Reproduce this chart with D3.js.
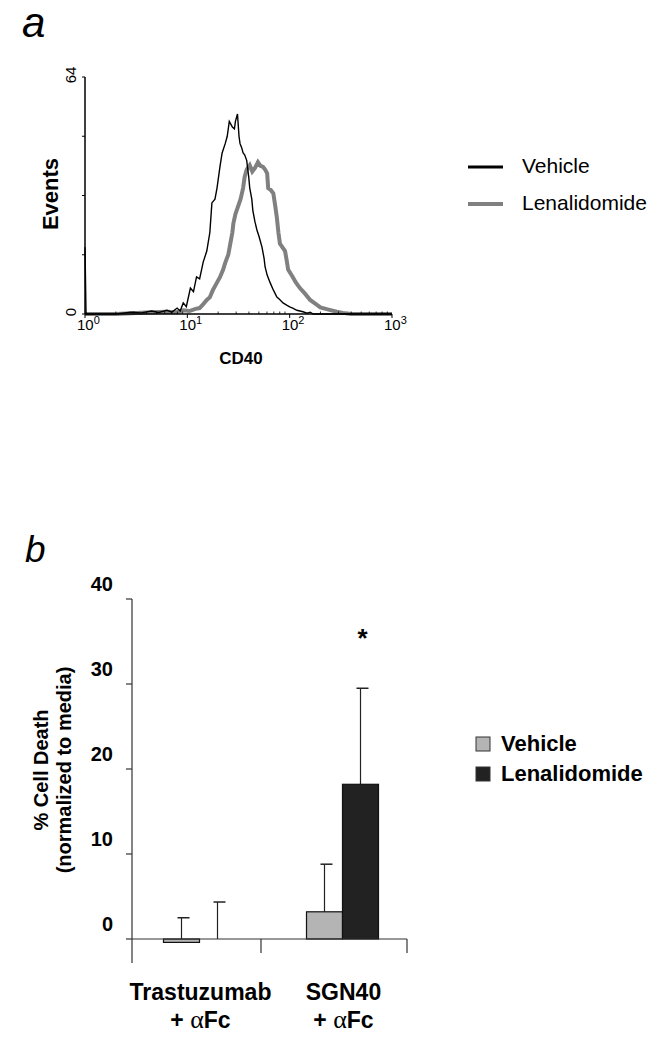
<!DOCTYPE html>
<html>
<head>
<meta charset="utf-8">
<script src="https://cdn.jsdelivr.net/npm/d3@7"></script>
<style>
  html, body { margin: 0; padding: 0; background: #fff; }
  svg { display: block; font-family: "Liberation Sans", Arial, sans-serif; }
</style>
</head>
<body>
<svg id="chart" width="660" height="1050"></svg>
<script>
// ---------- Panel a: CD40 flow histogram ----------
const histSeries = ["Vehicle", "Lenalidomide"];
const histColors = ["#000000", "#808080"];
// x = log10 fluorescence (CD40), y = events
const vehicleLog = [0.00,0.01,0.30,0.45,0.55,0.65,0.72,0.80,0.85,0.90,0.93,0.96,0.99,1.03,1.06,1.09,1.12,1.155,1.19,1.22,1.24,1.27,1.29,1.32,1.34,1.37,1.39,1.41,1.43,1.44,1.46,1.47,1.49,1.505,1.515,1.53,1.545,1.56,1.58,1.60,1.61,1.63,1.64,1.66,1.68,1.70,1.73,1.75,1.76,1.78,1.81,1.84,1.875,1.90,1.935,1.97,2.00,2.03,2.07,2.10,2.13,2.17,2.20,2.23,3.00];
const vehicleEvents = [18,0,0,0.5,0.3,0.8,0.4,1.0,0.5,1.6,0.8,3.0,2.0,7.0,6.0,10.0,9.5,14,17,22,30,31,34,40,43.5,46,48,52,51,50.5,50,52,54,48,46,45,43.5,43,41.5,37,34,31,28,25,22.7,21,18,15,12.7,10.5,8.4,6.5,4.6,4,3,2.4,1.9,1.6,1.0,0.8,0.6,0.2,0.5,0,0];
const lenaLog = [0.00,0.30,0.50,0.65,0.80,0.90,0.96,1.02,1.08,1.12,1.16,1.19,1.22,1.25,1.28,1.32,1.35,1.37,1.40,1.42,1.44,1.45,1.47,1.495,1.52,1.545,1.56,1.58,1.61,1.635,1.66,1.69,1.715,1.74,1.76,1.78,1.79,1.815,1.84,1.86,1.875,1.89,1.905,1.93,1.955,1.97,1.985,2.03,2.06,2.10,2.15,2.20,2.25,2.30,2.38,2.46,2.52,2.60,3.00];
const lenaEvents = [0,0,0.3,0.5,0.6,0.5,1.0,0.8,1.4,1.6,2.8,3.8,4.5,6.5,8,10,12,13.8,16,19,22,24.5,27,29,31,34,37,39,40.2,38.5,39.4,41,40,39.7,39,38,34,33.5,32.6,29,26,22,19,18,17,14.6,12,10,8.5,7,5.5,3.8,2.8,1.8,1.2,0.6,0.3,0,0];
const decadeExponents = [0, 1, 2, 3];
const eventTicks = [0, 16, 32, 48, 64];
const eventTickLabels = [0, 64];

// ---------- Panel b: cell death bars ----------
const treatments = ["Trastuzumab", "SGN40"];
const treatmentLine2 = ["+ ", "+ "];
const barSeries = ["Vehicle", "Lenalidomide"];
const barColors = ["#b4b4b4", "#222222"];
const vehicleDeath = [-0.4, 3.2];
const lenaDeath = [0.0, 18.2];
const vehicleErr = [2.9, 5.6];
const lenaErr = [4.35, 11.3];
const significant = [[false, false], [false, true]];
const deathTicks = [0, 10, 20, 30, 40];

const svg = d3.select("#chart");
svg.append("rect").attr("width", 660).attr("height", 1050).attr("fill", "#fff");

// ===== Panel a =====
const xA = d3.scaleLinear().domain([0, 3]).range([85, 392]);
const yA = d3.scaleLinear().domain([0, 64]).range([314, 77]);

svg.append("text").attr("x", 22).attr("y", 37)
  .attr("font-size", 42).attr("font-style", "italic").text("a");

const gA = svg.append("g");
const line = d3.line().x(d => xA(d[0])).y(d => yA(d[1]));
const histData = [
  d3.zip(vehicleLog, vehicleEvents),
  d3.zip(lenaLog, lenaEvents)
];
[1, 0].forEach(i => {
  gA.append("path").datum(histData[i])
    .attr("d", line)
    .attr("fill", "none")
    .attr("stroke", histColors[i])
    .attr("stroke-width", i === 1 ? 4 : 1.4)
    .attr("stroke-linejoin", "miter");
});

// axes
gA.append("line").attr("x1", xA(0)).attr("x2", xA(0)).attr("y1", yA(0)).attr("y2", yA(64))
  .attr("stroke", "#000").attr("stroke-width", 1.5);
gA.append("line").attr("x1", xA(0)).attr("x2", xA(3)).attr("y1", yA(0)).attr("y2", yA(0))
  .attr("stroke", "#000").attr("stroke-width", 1.5);
eventTicks.forEach(t => {
  gA.append("line").attr("x1", xA(0) - 3).attr("x2", xA(0)).attr("y1", yA(t)).attr("y2", yA(t))
    .attr("stroke", "#000").attr("stroke-width", 1);
});
eventTickLabels.forEach(t => {
  gA.append("text")
    .attr("transform", `translate(${xA(0) - 9},${yA(t) - 2}) rotate(-90)`)
    .attr("text-anchor", "middle").attr("font-size", 15).text(t);
});
decadeExponents.forEach(e => {
  gA.append("line").attr("x1", xA(e)).attr("x2", xA(e)).attr("y1", yA(0)).attr("y2", yA(0) + 4)
    .attr("stroke", "#000").attr("stroke-width", 1);
  if (e < 3) {
    for (let m = 2; m <= 9; m++) {
      const lx = xA(e + Math.log10(m));
      gA.append("line").attr("x1", lx).attr("x2", lx).attr("y1", yA(0)).attr("y2", yA(0) - 2.5)
        .attr("stroke", "#000").attr("stroke-width", 0.8);
    }
  }
  const t = gA.append("text").attr("x", xA(e) - 8).attr("y", yA(0) + 16)
    .attr("font-size", 15);
  t.append("tspan").text("10");
  t.append("tspan").attr("font-size", 11).attr("dy", -6).text(e);
});
gA.append("text").attr("x", 241).attr("y", 364).attr("text-anchor", "middle")
  .attr("font-size", 17).attr("font-weight", "bold").text("CD40");
gA.append("text").attr("transform", `translate(58,194) rotate(-90)`)
  .attr("text-anchor", "middle").attr("font-size", 22).attr("font-weight", "bold").text("Events");

// legend a
histSeries.forEach((s, i) => {
  const ly = 167 + i * 37;
  gA.append("line").attr("x1", 468).attr("x2", 503).attr("y1", ly).attr("y2", ly)
    .attr("stroke", histColors[i]).attr("stroke-width", i === 0 ? 3 : 4);
  gA.append("text").attr("x", 522).attr("y", ly + 6).attr("font-size", 21).text(s);
});

// ===== Panel b =====
const yB = d3.scaleLinear().domain([0, 40]).range([939, 599]);
const xB = d3.scaleBand().domain(treatments).range([128, 414]);
const xSub = d3.scaleBand().domain(barSeries).range([0, 72]);
const groupOffset = (xB.bandwidth() - 72) / 2;

svg.append("text").attr("x", 25).attr("y", 562)
  .attr("font-size", 37).attr("font-style", "italic").text("b");

const gB = svg.append("g");
const barData = [];
treatments.forEach((c, ci) => {
  barData.push({cat: c, ser: 0, v: vehicleDeath[ci], e: vehicleErr[ci], sig: significant[ci][0]});
  barData.push({cat: c, ser: 1, v: lenaDeath[ci], e: lenaErr[ci], sig: significant[ci][1]});
});
const bx = d => xB(d.cat) + groupOffset + xSub(barSeries[d.ser]);

barData.forEach(d => {
  const cx = bx(d) + xSub.bandwidth() / 2;
  gB.append("line").attr("x1", cx).attr("x2", cx)
    .attr("y1", yB(Math.max(d.v, 0))).attr("y2", yB(d.v + d.e))
    .attr("stroke", "#222").attr("stroke-width", 1.2);
  gB.append("line").attr("x1", cx - 4).attr("x2", cx + 8)
    .attr("y1", yB(d.v + d.e)).attr("y2", yB(d.v + d.e))
    .attr("stroke", "#222").attr("stroke-width", 1.5);
  if (d.sig) {
    gB.append("text").attr("x", cx + 2).attr("y", yB(d.v + d.e) - 41)
      .attr("text-anchor", "middle").attr("font-size", 26).attr("font-weight", "bold").text("*");
  }
});
gB.selectAll("rect.bar").data(barData).enter().append("rect")
  .attr("class", "bar")
  .attr("x", d => bx(d))
  .attr("width", xSub.bandwidth())
  .attr("y", d => yB(Math.max(d.v, 0)))
  .attr("height", d => Math.abs(yB(d.v) - yB(0)))
  .attr("fill", d => barColors[d.ser])
  .attr("stroke", "#111").attr("stroke-width", 1.2)
  .filter(d => d.v === 0).remove();

// axes b
gB.append("line").attr("x1", 132).attr("x2", 132).attr("y1", yB(40)).attr("y2", yB(0) + 24)
  .attr("stroke", "#333").attr("stroke-width", 1.2);
gB.append("line").attr("x1", 132).attr("x2", 407).attr("y1", yB(0)).attr("y2", yB(0))
  .attr("stroke", "#333").attr("stroke-width", 1.2);
deathTicks.forEach(t => {
  gB.append("line").attr("x1", 126).attr("x2", 132).attr("y1", yB(t)).attr("y2", yB(t))
    .attr("stroke", "#333").attr("stroke-width", 1.2);
  gB.append("text").attr("x", 113).attr("y", yB(t) - 8).attr("text-anchor", "end")
    .attr("font-size", 20).attr("font-weight", "bold").text(t);
});
const sepX = (bx(barData[1]) + xSub.bandwidth() + bx(barData[2])) / 2 - 10;
[sepX, 407].forEach(x => {
  gB.append("line").attr("x1", x).attr("x2", x).attr("y1", yB(0)).attr("y2", yB(0) + 14)
    .attr("stroke", "#333").attr("stroke-width", 1.2);
});
treatments.forEach((c, ci) => {
  const cx = xB(c) + xB.bandwidth() / 2;
  gB.append("text").attr("x", cx + 1).attr("y", 1000).attr("text-anchor", "middle")
    .attr("font-size", 23).attr("font-weight", "bold").text(c);
  const t2 = gB.append("text").attr("x", cx + 1).attr("y", 1028).attr("text-anchor", "middle")
    .attr("font-size", 23).attr("font-weight", "bold");
  t2.append("tspan").text(treatmentLine2[ci]);
  t2.append("tspan").attr("font-family", "Liberation Serif").attr("font-weight", "normal")
    .attr("font-size", 26).text("α");
  t2.append("tspan").text("Fc");
});
const yl = gB.append("text").attr("transform", "translate(0,770) rotate(-90)")
  .attr("text-anchor", "middle").attr("font-size", 20).attr("font-weight", "bold");
yl.append("tspan").attr("x", 0).attr("y", 48).text("% Cell Death");
yl.append("tspan").attr("x", 0).attr("y", 71).text("(normalized to media)");

barSeries.forEach((s, i) => {
  const ly = 737 + i * 30;
  gB.append("rect").attr("x", 476).attr("y", ly).attr("width", 14).attr("height", 14)
    .attr("fill", barColors[i]).attr("stroke", "#333").attr("stroke-width", 1);
  gB.append("text").attr("x", 501).attr("y", ly + 14).attr("font-size", 22)
    .attr("font-weight", "bold").text(s);
});
</script>
</body>
</html>
